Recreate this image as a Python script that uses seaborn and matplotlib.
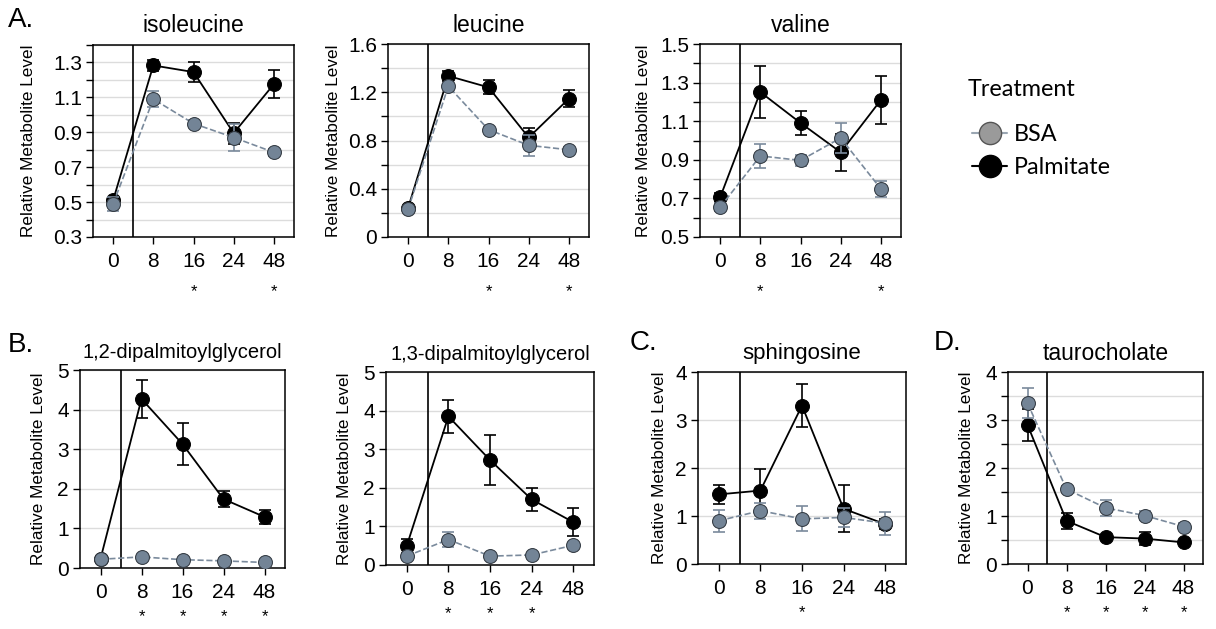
import numpy as np
import pandas as pd
import matplotlib
matplotlib.use('Agg')
import matplotlib.pyplot as plt
import seaborn as sns
from matplotlib.lines import Line2D
from matplotlib.ticker import MultipleLocator, FixedLocator

# time points (hours)
hours = ['0', '8', '16', '24', '48']

# isoleucine
iso_bsa = [0.49, 1.09, 0.95, 0.87, 0.785]
iso_bsa_err = [0.04, 0.045, 0.02, 0.075, 0.02]
iso_pal = [0.51, 1.283, 1.245, 0.895, 1.176]
iso_pal_err = [0.02, 0.03, 0.055, 0.06, 0.078]

# leucine
leu_bsa = [0.23, 1.25, 0.89, 0.76, 0.723]
leu_bsa_err = [0.02, 0.02, 0.02, 0.089, 0.02]
leu_pal = [0.24, 1.335, 1.241, 0.825, 1.147]
leu_pal_err = [0.02, 0.045, 0.058, 0.076, 0.07]

# valine
val_bsa = [0.654, 0.92, 0.897, 1.013, 0.749]
val_bsa_err = [0.02, 0.06, 0.03, 0.077, 0.04]
val_pal = [0.705, 1.251, 1.091, 0.939, 1.21]
val_pal_err = [0.025, 0.135, 0.063, 0.095, 0.123]

# 1,2-dipalmitoylglycerol
dg12_bsa = [0.22, 0.28, 0.21, 0.18, 0.14]
dg12_bsa_err = [0.04, 0.06, 0.04, 0.04, 0.04]
dg12_pal = [0.23, 4.27, 3.13, 1.74, 1.29]
dg12_pal_err = [0.04, 0.47, 0.54, 0.21, 0.17]

# 1,3-dipalmitoylglycerol
dg13_bsa = [0.23, 0.66, 0.23, 0.26, 0.51]
dg13_bsa_err = [0.04, 0.19, 0.04, 0.05, 0.06]
dg13_pal = [0.50, 3.85, 2.72, 1.70, 1.11]
dg13_pal_err = [0.18, 0.43, 0.64, 0.29, 0.36]

# sphingosine
sph_bsa = [0.90, 1.11, 0.94, 0.97, 0.85]
sph_bsa_err = [0.23, 0.17, 0.26, 0.19, 0.24]
sph_pal = [1.45, 1.53, 3.30, 1.15, 0.83]
sph_pal_err = [0.20, 0.44, 0.45, 0.49, 0.10]

# taurocholate
tau_bsa = [3.35, 1.56, 1.17, 1.01, 0.78]
tau_bsa_err = [0.31, 0.07, 0.17, 0.10, 0.07]
tau_pal = [2.90, 0.90, 0.56, 0.53, 0.45]
tau_pal_err = [0.33, 0.17, 0.05, 0.14, 0.04]

sns.set_style('white')
plt.rcParams['font.family'] = ['Liberation Sans', 'DejaVu Sans']
plt.rcParams['text.color'] = 'black'
plt.rcParams['axes.labelcolor'] = 'black'
plt.rcParams['xtick.color'] = 'black'
plt.rcParams['ytick.color'] = 'black'

W, H = 1216, 629
fig = plt.figure(figsize=(W / 100, H / 100), dpi=100)

bsa_color = '#7a8a9c'
bsa_face = '#738496'
pal_color = 'black'


def px_rect(x0, y0, x1, y1):
    return [x0 / W, 1 - y1 / H, (x1 - x0) / W, (y1 - y0) / H]


def draw_panel(rect, title, bsa, bsa_err, pal, pal_err, ylim, major, minor, stars,
               star_off, title_size, ylab_pad):
    ax = fig.add_axes(px_rect(*rect))
    x = np.arange(len(hours))
    ax.errorbar(x, pal, yerr=pal_err, fmt='none', ecolor=pal_color,
                capsize=4, elinewidth=1.2, capthick=1.2, zorder=3)
    sns.lineplot(x=x, y=pal, color=pal_color, marker='o', markersize=10,
                 markeredgecolor='black', linewidth=1.3, ax=ax, zorder=3)
    ax.errorbar(x, bsa, yerr=bsa_err, fmt='none', ecolor=bsa_color,
                capsize=4, elinewidth=1.2, capthick=1.2, zorder=4)
    sns.lineplot(x=x, y=bsa, color=bsa_color, marker='o', markersize=10,
                 markerfacecolor=bsa_face, markeredgecolor='#333a42',
                 linestyle='--', linewidth=1.2, ax=ax, zorder=4)

    ax.axvline(0.5, color='black', linewidth=1.2, zorder=2)
    ax.set_xlim(-0.5, 4.5)
    ax.set_ylim(*ylim)
    ax.set_xticks(x)
    ax.set_xticklabels(hours)
    ax.yaxis.set_major_locator(FixedLocator(major))
    ax.set_yticklabels([('%g' % v) for v in major])
    if minor is not None:
        ax.yaxis.set_minor_locator(MultipleLocator(minor))
    ax.grid(True, which='both', axis='y', color='#dcdcdc', linewidth=1.0)
    ax.set_axisbelow(True)
    ax.tick_params(axis='both', which='both', direction='out', length=5,
                   width=1.0, color='black', labelsize=15, left=True, bottom=True)
    ax.tick_params(axis='x', pad=6)
    ax.tick_params(axis='y', pad=3)
    for s in ax.spines.values():
        s.set_visible(True)
        s.set_color('black')
        s.set_linewidth(1.1)
    ax.set_xlabel('')
    ax.set_ylabel('Relative Metabolite Level', fontsize=12.3, labelpad=ylab_pad)
    ax.set_title(title, fontsize=title_size, pad=9)
    for h in stars:
        ax.annotate('*', xy=(hours.index(h), 0), xycoords=('data', 'axes fraction'),
                    xytext=(0, -star_off), textcoords='offset points',
                    ha='center', va='center', fontsize=12)
    return ax


top = 39
draw_panel((93, 45, 294, 237), 'isoleucine', iso_bsa, iso_bsa_err, iso_pal, iso_pal_err,
           (0.3, 1.4), [0.3, 0.5, 0.7, 0.9, 1.1, 1.3], 0.1, ['16', '48'], top, 16.5, 12)
draw_panel((388, 44, 589, 237), 'leucine', leu_bsa, leu_bsa_err, leu_pal, leu_pal_err,
           (0, 1.6), [0, 0.4, 0.8, 1.2, 1.6], 0.2, ['16', '48'], top, 16.5, 5)
draw_panel((700, 44, 901, 237), 'valine', val_bsa, val_bsa_err, val_pal, val_pal_err,
           (0.5, 1.5), [0.5, 0.7, 0.9, 1.1, 1.3, 1.5], 0.1, ['8', '48'], top, 16.5, 6)

bot = 35
draw_panel((80, 370, 285, 568), '1,2-dipalmitoylglycerol', dg12_bsa, dg12_bsa_err, dg12_pal,
           dg12_pal_err, (0, 5), [0, 1, 2, 3, 4, 5], None, ['8', '16', '24', '48'], bot, 14.5, 8)
draw_panel((386, 372, 594, 565), '1,3-dipalmitoylglycerol', dg13_bsa, dg13_bsa_err, dg13_pal,
           dg13_pal_err, (0, 5), [0, 1, 2, 3, 4, 5], None, ['8', '16', '24'], bot, 14.5, 8)
draw_panel((698, 372, 906, 564), 'sphingosine', sph_bsa, sph_bsa_err, sph_pal, sph_pal_err,
           (0, 4), [0, 1, 2, 3, 4], None, ['16'], bot, 16, 6)
draw_panel((1008, 372, 1203, 564), 'taurocholate', tau_bsa, tau_bsa_err, tau_pal, tau_pal_err,
           (0, 4), [0, 1, 2, 3, 4], 0.5, ['8', '16', '24', '48'], bot, 16.5, 8)

# panel letters
for lab, px, py in [('A.', 8, 20), ('B.', 8, 345), ('C.', 630, 343), ('D.', 934, 343)]:
    fig.text(px / W, 1 - py / H, lab, fontsize=20, ha='left', va='center')

# legend
fig.text(968 / W, 1 - 89 / H, 'Treatment', fontsize=16.8, family='Lato',
         ha='left', va='center')
handles = [
    Line2D([0], [0], color='#9aa6b2', linewidth=1.5, marker='o', markersize=16,
           markerfacecolor='#9a9a9a', markeredgecolor='#555555'),
    Line2D([0], [0], color='black', linewidth=1.5, marker='o', markersize=16,
           markerfacecolor='black', markeredgecolor='black'),
]
leg = fig.legend(handles, ['BSA', 'Palmitate'], loc='upper left',
                 bbox_to_anchor=(972 / W, 1 - 124 / H), frameon=False,
                 prop={'family': 'Lato', 'size': 16.8}, handlelength=1.5,
                 handletextpad=0.3, labelspacing=0.5, borderpad=0, borderaxespad=0)

fig.savefig('out.png', dpi=100)
